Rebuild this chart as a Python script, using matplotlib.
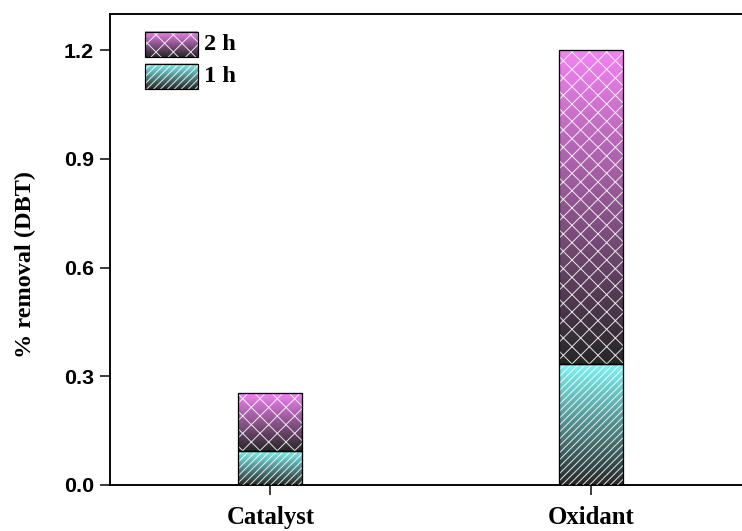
import numpy as np
import matplotlib
matplotlib.use('Agg')
import matplotlib.pyplot as plt
from matplotlib.colors import to_rgb
from matplotlib.patches import Rectangle

# data (stacked: 1 h at bottom, extra 2 h on top)
categories = ['Catalyst', 'Oxidant']
one_h = [0.095, 0.335]
two_h = [0.160, 0.865]   # added on top of the 1 h part
yticks = [0.0, 0.3, 0.6, 0.9, 1.2]

top_colors = {'1 h': '#80f6f6', '2 h': '#f383f3'}
bottom_color = '#262626'
hatches = {'1 h': '/////', '2 h': 'xx'}

DPI = 104


def px(v):
    # pixel size -> points at this dpi
    return v * 72 / DPI


plt.rcParams['hatch.linewidth'] = px(1.0)
serif = ['Liberation Serif', 'DejaVu Serif']
sans = ['Liberation Sans', 'DejaVu Sans']


def gradient(top, n=256):
    t = np.linspace(0, 1, n)[:, None, None]
    lo = np.array(to_rgb(bottom_color))[None, None, :]
    hi = np.array(to_rgb(top))[None, None, :]
    return lo + (hi - lo) * t


def fancy_bars(ax, x, heights, bottoms, label, width):
    bars = ax.bar(x, heights, width, bottom=bottoms, facecolor='none',
                  edgecolor='none', linewidth=0, zorder=1)
    grad = gradient(top_colors[label])
    for p in bars:
        x0, y0 = p.get_x(), p.get_y()
        ax.imshow(grad, extent=[x0, x0 + p.get_width(), y0, y0 + p.get_height()],
                  origin='lower', aspect='auto', interpolation='bilinear', zorder=2)
    ax.bar(x, heights, width, bottom=bottoms, facecolor='none',
           edgecolor=(1, 1, 1, 0.85), linewidth=0, hatch=hatches[label], zorder=3)
    ax.bar(x, heights, width, bottom=bottoms, fill=False,
           edgecolor='black', linewidth=px(1.3), zorder=4)


def legend_entry(ax, x0, y0, w, h, label):
    ax.imshow(gradient(top_colors[label]), extent=[x0, x0 + w, y0, y0 + h],
              origin='lower', aspect='auto', interpolation='bilinear',
              transform=ax.transAxes, zorder=5, clip_on=False)
    ax.add_patch(Rectangle((x0, y0), w, h, transform=ax.transAxes, facecolor='none',
                           edgecolor=(1, 1, 1, 0.85), linewidth=0,
                           hatch=hatches[label], zorder=6))
    ax.add_patch(Rectangle((x0, y0), w, h, transform=ax.transAxes, fill=False,
                           edgecolor='black', linewidth=px(1.2), zorder=7))
    ax.text(x0 + w + 0.009, y0 + h / 2, label, transform=ax.transAxes,
            ha='left', va='center', fontsize=px(24.5), fontweight='bold', family=serif)


fig = plt.figure(figsize=(742 / DPI, 531 / DPI), dpi=DPI)
ax = fig.add_axes([110 / 742, 46 / 531, 641.6 / 742, 471 / 531])

x = np.arange(len(categories))
width = 0.2
fancy_bars(ax, x, one_h, 0, '1 h', width)
fancy_bars(ax, x, two_h, one_h, '2 h', width)

legend_entry(ax, 0.0546, 0.9087, 0.0826, 0.0531, '2 h')
legend_entry(ax, 0.0546, 0.8408, 0.0826, 0.0531, '1 h')

ax.set_xlim(-0.5, 1.5)
ax.set_ylim(0, 1.3)
ax.set_yticks(yticks)
ax.set_yticklabels([f'{v:.1f}' for v in yticks], fontsize=px(21.5),
                   fontweight='bold', family=sans)
ax.set_xticks(x)
ax.set_xticklabels(categories, fontsize=px(24.8), fontweight='bold', family=serif)
ax.tick_params(direction='out', length=px(10), width=px(1.5), pad=px(6))
ax.tick_params(axis='x', pad=px(11))
ax.set_ylabel('% removal (DBT)', fontsize=px(24.2), fontweight='bold', family=serif)
ax.yaxis.set_label_coords(-0.115, 0.469)
for s in ax.spines.values():
    s.set_linewidth(px(1.9))

fig.savefig('out.png', dpi=DPI)
